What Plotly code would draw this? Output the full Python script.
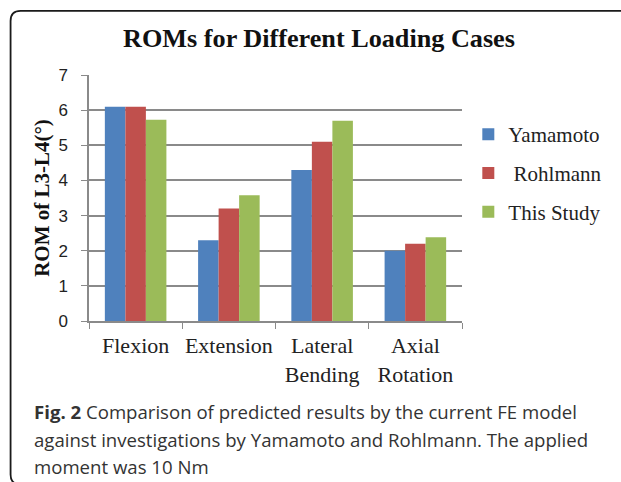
import plotly.graph_objects as go

categories = ["Flexion", "Extension", "Lateral<br>Bending", "Axial<br>Rotation"]
yamamoto = [6.1, 2.3, 4.3, 2.0]
rohlmann = [6.1, 3.2, 5.1, 2.2]
this_study = [5.73, 3.58, 5.7, 2.38]
series_names = ["Yamamoto", "\u00a0Rohlmann", "This Study"]
series_colors = ["#4F81BD", "#C0504D", "#9BBB59"]
y_ticks = [0, 1, 2, 3, 4, 5, 6, 7]

W, H = 621, 482
L, R, T, B = 89.3, 461.7, 75.0, 320.7


def px(x):
    return (x - L) / (R - L)


def py(y):
    return (B - y) / (B - T)


fig = go.Figure()
for name, vals, col, grp in zip(series_names, [yamamoto, rohlmann, this_study], series_colors, ["a", "b", "c"]):
    fig.add_trace(go.Bar(x=categories, y=vals, name=name, marker=dict(color=col, line=dict(width=0)),
                         legendgroup=grp))

grid = "#8a8a8a"
fig.update_layout(
    width=W, height=H,
    margin=dict(l=L, r=W - R, t=T, b=H - B, pad=0),
    paper_bgcolor="white", plot_bgcolor="white",
    barmode="group", bargap=0.34, bargroupgap=0,
    title=dict(text="<b>ROMs for Different Loading Cases</b>", x=319 / W, xanchor="center",
               y=1 - 38 / H, yanchor="middle", yref="container",
               font=dict(family="Liberation Serif", size=26.2, color="#111")),
    font=dict(family="Liberation Serif", color="#222"),
    legend=dict(x=px(468), xanchor="left", y=py(114), yanchor="top",
                font=dict(family="Liberation Serif", size=21, color="#222"),
                tracegroupgap=8.5, bgcolor="rgba(0,0,0,0)"),
    xaxis=dict(type="category", range=[-0.5, 3.5], tickson="boundaries", ticks="outside", ticklen=6,
               tickcolor=grid, showline=True, linecolor=grid, linewidth=1.5, showgrid=False, tickangle=0,
               tickfont=dict(family="Liberation Serif", size=22, color="#222"), ticklabelstandoff=4),
    yaxis=dict(range=[0, 7], tickvals=y_ticks, ticks="outside", ticklen=6, tickcolor=grid,
               showline=True, linecolor=grid, linewidth=1.5, showgrid=True, gridcolor=grid, gridwidth=1.5,
               zeroline=False, tickfont=dict(family="Liberation Sans", size=17, color="#222"),
               ticklabelstandoff=10,
               title=dict(text="<b>ROM of L3-L4(°)</b>", font=dict(family="Liberation Serif", size=21, color="#111"),
                          standoff=3)),
)

# rounded figure border
x0, y0, x1, y1, r = 11, 11, 700, 484, 10
path = (f"M {px(x1)},{py(y0)} L {px(x0 + r)},{py(y0)} Q {px(x0)},{py(y0)} {px(x0)},{py(y0 + r)} "
        f"L {px(x0)},{py(y1 - r)} Q {px(x0)},{py(y1)} {px(x0 + r)},{py(y1)} L {px(x1)},{py(y1)}")
fig.add_shape(type="path", path=path, xref="paper", yref="paper", line=dict(color="#1a1a1a", width=1.8),
              layer="above")

cap_font = dict(family="Open Sans", size=18.6, color="#333")
captions = ["<b>Fig. 2</b> Comparison of predicted results by the current FE model",
            "against investigations by Yamamoto and Rohlmann. The applied",
            "moment was 10 Nm"]
for i, txt in enumerate(captions):
    fig.add_annotation(text=txt, xref="paper", yref="paper", x=px(32), y=py(411 + 27.6 * i),
                       xanchor="left", yanchor="middle", showarrow=False, font=cap_font)

fig.write_html("out.html", config={"displayModeBar": False},
               post_script="document.body.style.margin='0';document.body.style.overflow='hidden';")
